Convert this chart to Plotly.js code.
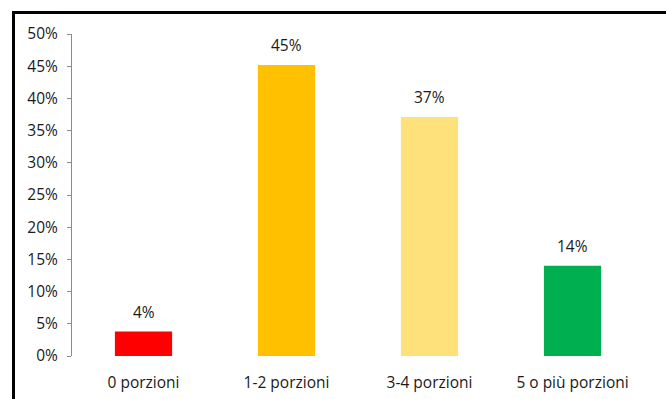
<!DOCTYPE html>
<html><head><meta charset="utf-8">
<script src="https://cdn.plot.ly/plotly-3.0.1.min.js"></script>
<style>html,body{margin:0;padding:0;background:#fff}</style>
</head><body><div id="chart" style="width:666px;height:399px"></div>
<script>
var categories = ["0 porzioni", "1-2 porzioni", "3-4 porzioni", "5 o più porzioni"];
var values = [3.8, 45.2, 37.1, 14.0];
var labels = ["4%", "45%", "37%", "14%"];
var colors = ["#FF0000", "#FFC000", "#FFE17C", "#00B050"];
var yTickVals = [0,5,10,15,20,25,30,35,40,45,50];
var yTickText = ["0%","5%","10%","15%","20%","25%","30%","35%","40%","45%","50%"];

var W = 666, H = 399, ml = 72, mr = 22, mt = 34, mb = 43;
var pw = W - ml - mr, ph = H - mt - mb;
function px(x){ return (x - ml) / pw; }
function py(y){ return 1 - (y - mt) / ph; }

var font = {family: "'Open Sans', sans-serif", size: 15.5, color: "#1a1a1a"};
var annotations = categories.map(function(c, i){
  return {x: c, y: values[i], xref: "x", yref: "y", text: labels[i], showarrow: false,
          yanchor: "bottom", yshift: 7, font: font};
});
Plotly.newPlot("chart", [{
  type: "bar", x: categories, y: values,
  marker: {color: colors, line: {width: 0}},
  width: 0.4, hoverinfo: "none"
}], {
  width: W, height: H,
  margin: {l: ml, r: mr, t: mt, b: mb, pad: 0},
  paper_bgcolor: "#fff", plot_bgcolor: "#fff",
  font: font, showlegend: false, bargap: 0.6,
  annotations: annotations,
  xaxis: {showline: false, showgrid: false, zeroline: false, ticks: "outside", ticklen: 12,
          tickcolor: "rgba(0,0,0,0)", tickfont: font, fixedrange: true},
  yaxis: {range: [0, 50], tickvals: yTickVals, ticktext: yTickText, showgrid: false,
          zeroline: false, showline: true, linecolor: "#8c8c8c", linewidth: 1,
          ticks: "outside", ticklen: 4, tickcolor: "#8c8c8c", ticklabelstandoff: 6,
          tickfont: font, fixedrange: true},
  shapes: [
    {type: "line", xref: "paper", yref: "paper", x0: px(13.5), x1: px(13.5), y0: py(11), y1: py(400),
     line: {color: "#000", width: 3}},
    {type: "line", xref: "paper", yref: "paper", x0: px(12), x1: px(667), y0: py(12.5), y1: py(12.5),
     line: {color: "#000", width: 3}}
  ]
}, {displayModeBar: false, staticPlot: true});
</script></body></html>
